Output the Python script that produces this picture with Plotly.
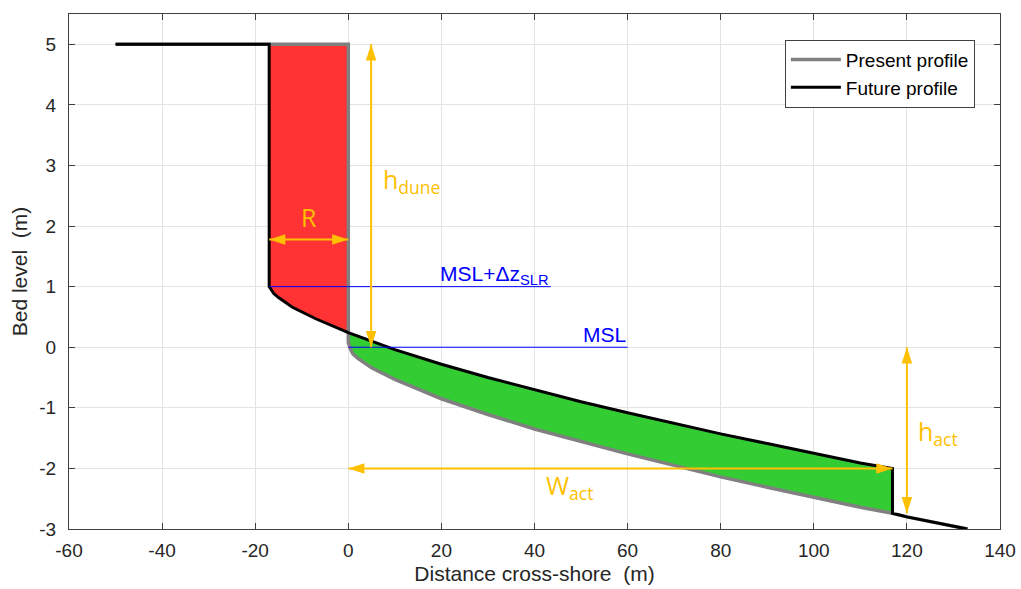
import plotly.graph_objects as go
import numpy as np

# ---- data ----
present_x = [-50, 0, 0, 0.5, 1, 2, 5, 10, 20, 30, 40, 50, 60, 70, 80, 90, 100, 110, 116.9, 120, 133]
present_z = [5, 5, 0.08, -0.04, -0.11, -0.18, -0.34, -0.53, -0.85, -1.11, -1.35, -1.56, -1.76, -1.95, -2.14, -2.31, -2.48, -2.64, -2.74, -2.80, -3.00]

future_x = [-50, -17, -17, -16.5, -16, -15, -12, -7, 0, 10, 20, 30, 40, 50, 60, 70, 80, 90, 100, 110, 116.9, 116.9, 120, 133]
future_z = [5, 5, 1.0, 0.93, 0.885, 0.82, 0.66, 0.47, 0.24, -0.04, -0.28, -0.50, -0.70, -0.90, -1.08, -1.26, -1.43, -1.59, -1.75, -1.91, -2.0, -2.74, -2.80, -3.00]

msl_slr_x = [-17, 43.5]
msl_slr_z = [1, 1]
msl_x = [0, 60]
msl_z = [0, 0]

# arrows: (x0, z0, x1, z1)
arrow_R = (-17, 1.78, 0, 1.78)
arrow_hdune = (4.9, 5, 4.9, 0)
arrow_wact = (0, -2.0, 116.9, -2.0)
arrow_hact = (120, 0, 120, -2.74)

x_ticks = [-60, -40, -20, 0, 20, 40, 60, 80, 100, 120, 140]
y_ticks = [-3, -2, -1, 0, 1, 2, 3, 4, 5]

ORANGE = "#FFC000"
RED = "#FF3333"
GREEN = "#33CC33"
FONT = "Liberation Sans, Arial, sans-serif"

fx = np.array(future_x); fz = np.array(future_z)
px = np.array(present_x); pz = np.array(present_z)

# red (retreat) polygon
m = (fx >= -17) & (fx <= 0)
red_x = list(fx[m]) + [0]
red_z = list(fz[m]) + [5]

# green (deposition) polygon
i0 = int(np.where(fx == 0)[0][0])
i1 = int(np.where(fx == 116.9)[0][0])
pm = (px >= 0) & (px <= 116.9)
p_idx = np.where(pm)[0][1:]
green_x = list(fx[i0:i1 + 1]) + list(px[p_idx][::-1])
green_z = list(fz[i0:i1 + 1]) + list(pz[p_idx][::-1])

fig = go.Figure()
fig.add_trace(go.Scatter(x=red_x, y=red_z, fill="toself", fillcolor=RED, mode="none",
                         showlegend=False, hoverinfo="skip"))
fig.add_trace(go.Scatter(x=green_x, y=green_z, fill="toself", fillcolor=GREEN, mode="none",
                         showlegend=False, hoverinfo="skip"))
fig.add_trace(go.Scatter(x=present_x, y=present_z, mode="lines", name="Present profile",
                         line=dict(color="#808080", width=3.5)))
fig.add_trace(go.Scatter(x=future_x, y=future_z, mode="lines", name="Future profile",
                         line=dict(color="black", width=3)))
fig.add_trace(go.Scatter(x=msl_slr_x, y=msl_slr_z, mode="lines", showlegend=False,
                         line=dict(color="#0000FF", width=1)))
fig.add_trace(go.Scatter(x=msl_x, y=msl_z, mode="lines", showlegend=False,
                         line=dict(color="#0000FF", width=1)))

def darrow(a):
    x0, y0, x1, y1 = a
    if y0 == y1:
        ang = [-90, 90] if x1 > x0 else [90, -90]
    else:
        ang = [0, 180] if y0 > y1 else [180, 0]
    fig.add_trace(go.Scatter(x=[x0, x1], y=[y0, y1], mode="lines+markers", showlegend=False,
                             hoverinfo="skip",
                             line=dict(color=ORANGE, width=2),
                             marker=dict(symbol="arrow", size=17, angle=ang, color=ORANGE,
                                         line=dict(width=0))))

for a in (arrow_R, arrow_hdune, arrow_wact, arrow_hact):
    darrow(a)

lab_font = dict(family="Open Sans, Noto Sans, sans-serif", size=25, color=ORANGE)
fig.add_annotation(x=-8.5, y=2.15, text="R", showarrow=False, font=lab_font)
fig.add_annotation(x=7.0, y=2.75, text="h<sub>dune</sub>", showarrow=False, xanchor="left", font=lab_font)
fig.add_annotation(x=42.0, y=-2.3, text="W<sub>act</sub>", showarrow=False, xanchor="left", font=lab_font)
fig.add_annotation(x=122.0, y=-1.4, text="h<sub>act</sub>", showarrow=False, xanchor="left", font=lab_font)

blue_font = dict(family=FONT, size=21, color="#0000FF")
fig.add_annotation(x=43.5, y=1.0, text="MSL+Δz<sub>SLR</sub>", showarrow=False, xanchor="right",
                   yanchor="bottom", font=blue_font, yshift=-3)
fig.add_annotation(x=60, y=0.0, text="MSL", showarrow=False, xanchor="right",
                   yanchor="bottom", font=blue_font, yshift=-1)

axis_common = dict(showgrid=True, gridcolor="#E3E3E3", gridwidth=1, zeroline=False,
                   showline=True, linecolor="#404040", linewidth=1, mirror="ticks",
                   ticks="inside", ticklen=6, tickcolor="#404040", automargin=False,
                   tickfont=dict(family=FONT, size=19, color="#262626"))

fig.update_xaxes(range=[-60, 140], tickvals=x_ticks, ticktext=[str(v) for v in x_ticks],
                 ticklabelstandoff=4, **axis_common,
                 title=dict(text="Distance cross-shore  (m)", standoff=6,
                            font=dict(family=FONT, size=21, color="#262626")))
fig.update_yaxes(range=[-3, 5.5], tickvals=y_ticks, ticktext=[str(v) for v in y_ticks],
                 ticklabelstandoff=8, **axis_common,
                 title=dict(text="Bed level  (m)", standoff=5,
                            font=dict(family=FONT, size=21, color="#262626")))

fig.update_layout(
    width=1021, height=589,
    margin=dict(l=69, r=21, t=14, b=60),
    plot_bgcolor="white", paper_bgcolor="white",
    legend=dict(x=0.973, y=0.95, xanchor="right", yanchor="top",
                bgcolor="white", bordercolor="#404040", borderwidth=1,
                font=dict(family=FONT, size=19, color="black"),
                tracegroupgap=0, itemwidth=50),
    showlegend=True,
)

# remove the default page margin so the figure fills the window exactly
fig.write_html("out.html", config={"displayModeBar": False},
               post_script="document.body.style.margin='0';document.body.style.overflow='hidden';")
